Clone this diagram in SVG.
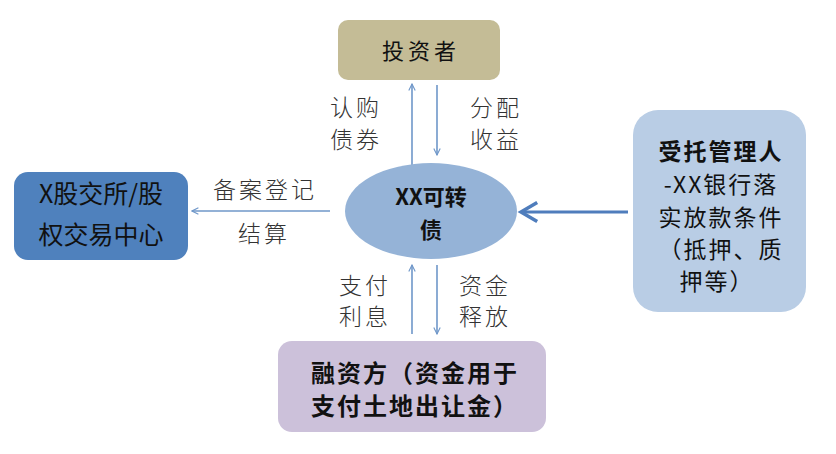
<svg xmlns="http://www.w3.org/2000/svg" width="836" height="454" viewBox="0 0 836 454">
<style>
.node{font-family:"Noto Sans CJK SC","Liberation Sans",sans-serif;fill:#111;text-anchor:middle}
.lbl{font-family:"Noto Sans CJK SC","Liberation Sans",sans-serif;font-weight:300;fill:#333;font-size:23px;letter-spacing:3px;text-anchor:middle}
.thin{stroke:#6F97C9;stroke-width:1.6;fill:none}
</style>
<defs>
<marker id="ah" viewBox="0 0 10 10" refX="9" refY="5" markerWidth="8" markerHeight="8" orient="auto" markerUnits="userSpaceOnUse">
<path d="M1,1 L9,5 L1,9" fill="none" stroke="#6F97C9" stroke-width="1.4"/>
</marker>
<marker id="ahb" viewBox="0 0 10 10" refX="8" refY="5" markerWidth="9" markerHeight="9" orient="auto" markerUnits="strokeWidth">
<path d="M2,1.5 L8,5 L2,8.5" fill="none" stroke="#4F7DBC" stroke-width="1.3"/>
</marker>
</defs>
<rect width="836" height="454" fill="#fff"/>
<g id="connectors">
<line class="thin" x1="412" y1="165" x2="412" y2="84" marker-end="url(#ah)"/>
<line class="thin" x1="437" y1="85" x2="437" y2="155" marker-end="url(#ah)"/>
<line class="thin" x1="412" y1="334" x2="412" y2="265" marker-end="url(#ah)"/>
<line class="thin" x1="437" y1="265" x2="437" y2="334" marker-end="url(#ah)"/>
<line class="thin" x1="330" y1="211" x2="192" y2="211" marker-end="url(#ah)"/>
<line x1="628" y1="212" x2="521" y2="212" stroke="#4F7DBC" stroke-width="3" marker-end="url(#ahb)"/>
<text class="lbl" x="356" y="116">认购</text>
<text class="lbl" x="356" y="148">债券</text>
<text class="lbl" x="496" y="116">分配</text>
<text class="lbl" x="496" y="148">收益</text>
<text class="lbl" x="265" y="198">备案登记</text>
<text class="lbl" x="264" y="242">结算</text>
<text class="lbl" x="365" y="294">支付</text>
<text class="lbl" x="365" y="325">利息</text>
<text class="lbl" x="485" y="294">资金</text>
<text class="lbl" x="485" y="325">释放</text>
</g>
<g id="investor">
<rect x="338" y="20" width="162" height="60" rx="10" fill="#C4BC96"/>
<text class="node" x="421" y="59" font-size="22" letter-spacing="4">投资者</text>
</g>
<g id="exchange">
<rect x="14" y="172" width="174" height="88" rx="14" fill="#4F81BD"/>
<text class="node" x="101" y="203" font-size="25">X股交所/股</text>
<text class="node" x="101" y="244" font-size="25">权交易中心</text>
</g>
<g id="bond">
<ellipse cx="431" cy="211" rx="86" ry="48" fill="#95B3D7"/>
<text class="node" x="431" y="205" font-size="22" font-weight="bold">XX可转</text>
<text class="node" x="431" y="238" font-size="22" font-weight="bold">债</text>
</g>
<g id="trustee">
<rect x="633" y="110" width="173" height="202" rx="25" fill="#B9CDE5"/>
<text class="node" x="721" y="160" font-size="23" font-weight="bold" letter-spacing="2">受托管理人</text>
<text class="node" x="721" y="193" font-size="23" letter-spacing="2">-XX银行落</text>
<text class="node" x="721" y="226" font-size="23" letter-spacing="2">实放款条件</text>
<text class="node" x="721" y="258" font-size="23" letter-spacing="2">（抵押、质</text>
<text class="node" x="717" y="290" font-size="23" letter-spacing="2">押等）</text>
</g>
<g id="financier">
<rect x="278" y="341" width="268" height="91" rx="14" fill="#CCC1DA"/>
<text class="node" x="415" y="382" font-size="24" font-weight="bold" letter-spacing="2">融资方（资金用于</text>
<text class="node" x="415" y="415" font-size="24" font-weight="bold" letter-spacing="2">支付土地出让金）</text>
</g>
</svg>
